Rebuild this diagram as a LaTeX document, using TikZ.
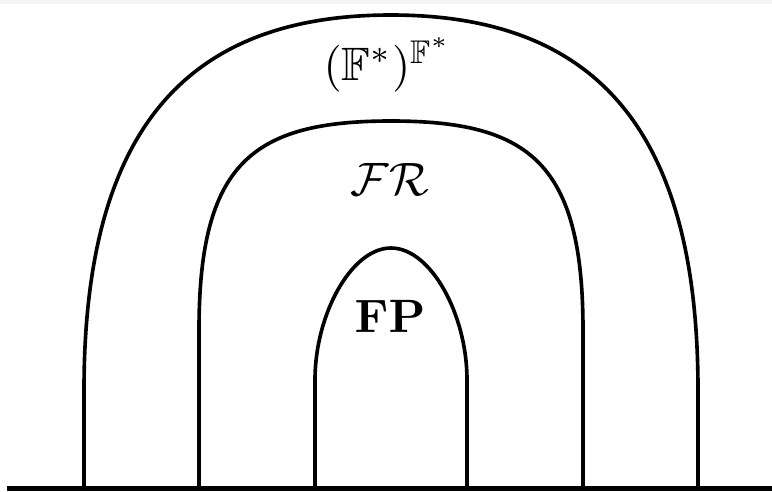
\documentclass[tikz,border=0pt]{standalone}
\usepackage{amssymb}
\definecolor{topband}{RGB}{246,244,243}
\begin{document}
\begin{tikzpicture}[x=0.03cm,y=-0.03cm,
  arch/.style={line width=3.1pt},
  groundline/.style={line width=4.3pt},
  lab/.style={scale=4,inner sep=0pt,anchor=base}]
\useasboundingbox (0,0) rectangle (772,491);
\fill[topband] (0,0) rectangle (772,4);
% ground
\coordinate (gl) at (7,488.5);
\coordinate (gr) at (772,488.5);
\draw[groundline] (gl) -- (gr);
% outer arch
\draw[arch] (84,487) -- (84,390) .. controls (84,127.5) and (188.4,15) .. (391,15)
  .. controls (593.6,15) and (698,127.5) .. (698,390) -- (698,487);
% middle arch
\draw[arch] (199,487) -- (199,330) .. controls (199,162.8) and (252.8,121) .. (391,121)
  .. controls (529.2,121) and (583,162.8) .. (583,330) -- (583,487);
% inner arch
\draw[arch] (315,487) -- (315,380) .. controls (315,314) and (351.5,248) .. (391,248)
  .. controls (430.5,248) and (467,314) .. (467,380) -- (467,487);
% labels
\node[lab] (outerlabel) at (388,80) {$(\mathbb{F}^*)^{\mathbb{F}^*}$};
\node[lab] (midlabel) at (390,195) {$\mathcal{F}\mathcal{R}$};
\node[lab] (innerlabel) at (390,332) {$\mathbf{FP}$};
\end{tikzpicture}
\end{document}
